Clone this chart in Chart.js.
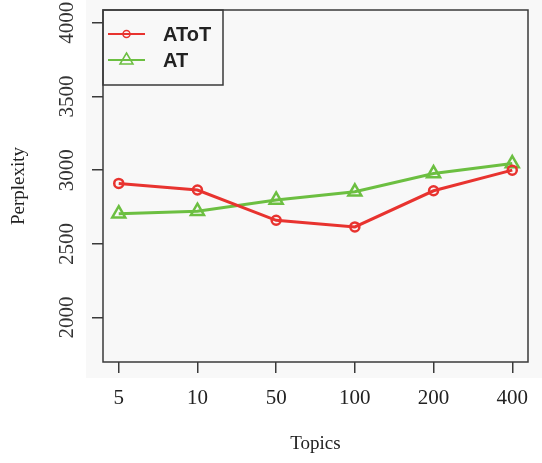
<!DOCTYPE html>
<html>
<head>
<meta charset="utf-8">
<script src="https://cdn.jsdelivr.net/npm/chart.js@4"></script>
<style>
  html, body { margin: 0; padding: 0; background: #fff; }
  #wrap { width: 542px; height: 463px; }
</style>
</head>
<body>
<div id="wrap"><canvas id="perplexity-chart" width="542" height="463"></canvas></div>
<script>
// datos
const topics = ['5', '10', '50', '100', '200', '400'];
const atotValues = [2910, 2865, 2660, 2615, 2860, 3000];
const atValues = [2705, 2722, 2798, 2853, 2977, 3045];
const yTicks = [2000, 2500, 3000, 3500, 4000];

const serif = '"Liberation Serif", "DejaVu Serif", serif';
const red = '#e8332f';
const green = '#6cbf41';

const toPoints = vals => vals.map((v, i) => ({ x: i, y: v }));

// fondo gris claro del escaneo + caja del grafico + leyenda
const rStyle = {
    id: 'rStyle',
    beforeDraw(chart) {
        const c = chart.ctx;
        c.save();
        c.fillStyle = '#f8f8f8';
        c.fillRect(86, 0, 456, 378);
        c.restore();
    },
    afterDraw(chart) {
        const c = chart.ctx;
        const a = chart.chartArea;
        const y = chart.scales.y;
        c.save();
        c.strokeStyle = '#3a3a3a';
        c.lineWidth = 1.5;
        c.strokeRect(a.left, a.top, a.right - a.left, a.bottom - a.top);

        // etiquetas del eje y giradas (estilo R)
        c.fillStyle = '#333';
        c.font = '21px ' + serif;
        c.textAlign = 'center';
        c.textBaseline = 'middle';
        y.ticks.forEach(t => {
            c.save();
            c.translate(67, y.getPixelForValue(t.value));
            c.rotate(-Math.PI / 2);
            c.fillText(String(t.value), 0, 0);
            c.restore();
        });

        // leyenda
        const lx = a.left, ly = a.top;
        c.strokeStyle = '#3a3a3a';
        c.lineWidth = 1.5;
        c.strokeRect(lx, ly, 120, 75);
        chart.data.datasets.forEach((ds, i) => {
            const yy = ly + 24 + i * 26;
            c.strokeStyle = ds.borderColor;
            c.lineWidth = 2;
            c.beginPath();
            c.moveTo(lx + 5, yy);
            c.lineTo(lx + 42, yy);
            c.stroke();
            c.lineWidth = 1.5;
            c.beginPath();
            if (ds.pointStyle === 'triangle') {
                c.moveTo(lx + 23.5, yy - 7);
                c.lineTo(lx + 30, yy + 4);
                c.lineTo(lx + 17, yy + 4);
                c.closePath();
            } else {
                c.arc(lx + 23.5, yy, 3.5, 0, Math.PI * 2);
            }
            c.stroke();
            c.fillStyle = '#222';
            c.font = 'bold 20px "Liberation Sans", Arial, sans-serif';
            c.textAlign = 'left';
            c.textBaseline = 'middle';
            c.fillText(ds.label, lx + 60, yy + 1);
        });
        c.restore();
    }
};

new Chart(document.getElementById('perplexity-chart'), {
    type: 'line',
    data: {
        datasets: [
            {
                label: 'AToT',
                data: toPoints(atotValues),
                borderColor: red,
                backgroundColor: 'rgba(0,0,0,0)',
                borderWidth: 3,
                pointStyle: 'circle',
                pointRadius: 4.5,
                pointBorderWidth: 2.5,
                pointBackgroundColor: 'rgba(0,0,0,0)',
                tension: 0
            },
            {
                label: 'AT',
                data: toPoints(atValues),
                borderColor: green,
                backgroundColor: 'rgba(0,0,0,0)',
                borderWidth: 3,
                pointStyle: 'triangle',
                pointRadius: 7.5,
                pointBorderWidth: 2.5,
                pointBackgroundColor: 'rgba(0,0,0,0)',
                tension: 0
            }
        ]
    },
    options: {
        responsive: false,
        animation: false,
        layout: { padding: { top: 10, right: 14, left: 0, bottom: 0 } },
        plugins: {
            legend: { display: false },
            tooltip: { enabled: false }
        },
        scales: {
            x: {
                type: 'linear',
                min: -0.2,
                max: 5.2,
                afterBuildTicks: s => { s.ticks = topics.map((_, i) => ({ value: i })); },
                afterFit: s => { s.height = 101; },
                grid: { drawOnChartArea: false, drawTicks: true, tickLength: 11, color: '#3a3a3a', lineWidth: 1.5 },
                border: { display: false },
                ticks: {
                    color: '#222',
                    font: { family: serif, size: 21 },
                    padding: 13,
                    maxRotation: 0,
                    callback: v => topics[v]
                },
                title: {
                    display: true,
                    text: 'Topics',
                    color: '#222',
                    font: { family: serif, size: 19 },
                    padding: { top: 0, bottom: 8 }
                }
            },
            y: {
                min: 1699,
                max: 4086,
                afterBuildTicks: s => { s.ticks = yTicks.map(v => ({ value: v })); },
                afterFit: s => { s.width = 103; },
                grid: { drawOnChartArea: false, drawTicks: true, tickLength: 11, color: '#3a3a3a', lineWidth: 1.5 },
                border: { display: false },
                ticks: { display: false },
                title: {
                    display: true,
                    text: 'Perplexity',
                    color: '#222',
                    font: { family: serif, size: 19 },
                    padding: { top: 8, bottom: 0 }
                }
            }
        }
    },
    plugins: [rStyle]
});
</script>
</body>
</html>
